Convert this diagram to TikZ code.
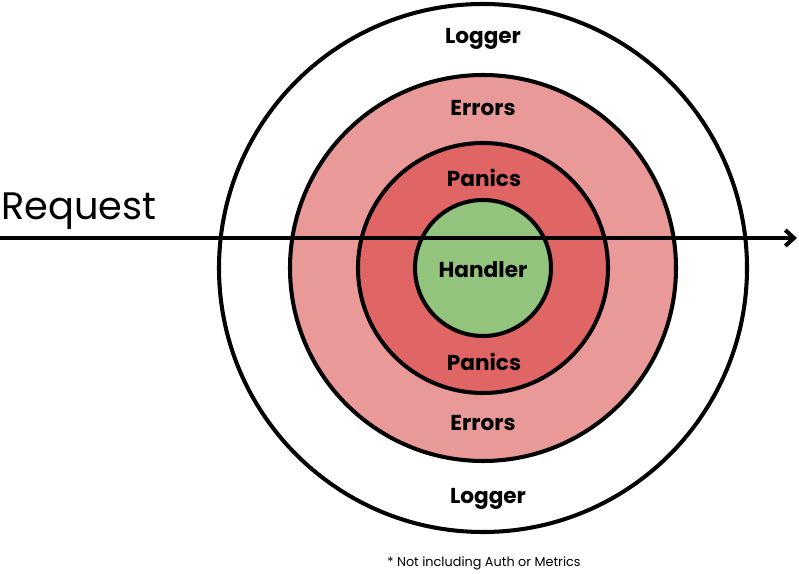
\documentclass[tikz,border=0pt]{standalone}
\usepackage{fontspec}
\setmainfont{Poppins}
\usepackage{tikz}
\usetikzlibrary{arrows.meta}
\definecolor{errred}{HTML}{EA9999}
\definecolor{panicred}{HTML}{E06666}
\definecolor{handlergreen}{HTML}{93C47D}
\tikzset{
  ring/.style={draw=black,line width=2.3pt},
  layer/.style={font=\bfseries\fontsize{12.3}{14}\selectfont,inner sep=0pt}
}

\begin{document}
\begin{tikzpicture}[x=0.02cm,y=-0.02cm]
                        \useasboundingbox (0,0) rectangle (799,574);
                        \coordinate (c) at (483,268);
                        \draw[ring,fill=white] (c) circle[radius=264];
                        \draw[ring,fill=errred] (c) circle[radius=193];
                        \draw[ring,fill=panicred] (c) circle[radius=125];
                        \draw[ring,fill=handlergreen] (c) circle[radius=68];
                        \coordinate (in) at (0,238);
                        \coordinate (out) at (797,238);
                        \draw[line width=2.3pt,-{Straight Barb[length=5pt,width=9pt]}] (in) to (out);
                        \node[anchor=base west,inner sep=0pt,font=\fontsize{21.8}{26}\selectfont] (req) at (1,220) {Request};
                        \node[layer] (logtop) at (483,39) {Logger};
                        \node[layer] (errtop) at (483,108) {Errors};
                        \node[layer] (pantop) at (484,178) {Panics};
                        \node[layer] (hand) at (483,270) {Handler};
                        \node[layer] (panbot) at (484,362) {Panics};
                        \node[layer] (errbot) at (483,423) {Errors};
                        \node[layer] (logbot) at (488,499) {Logger};
                        \node[font=\fontsize{7.3}{8}\selectfont,inner sep=0pt] (note) at (484,563) {* Not including Auth or Metrics};
                  \end{tikzpicture}
\end{document}
